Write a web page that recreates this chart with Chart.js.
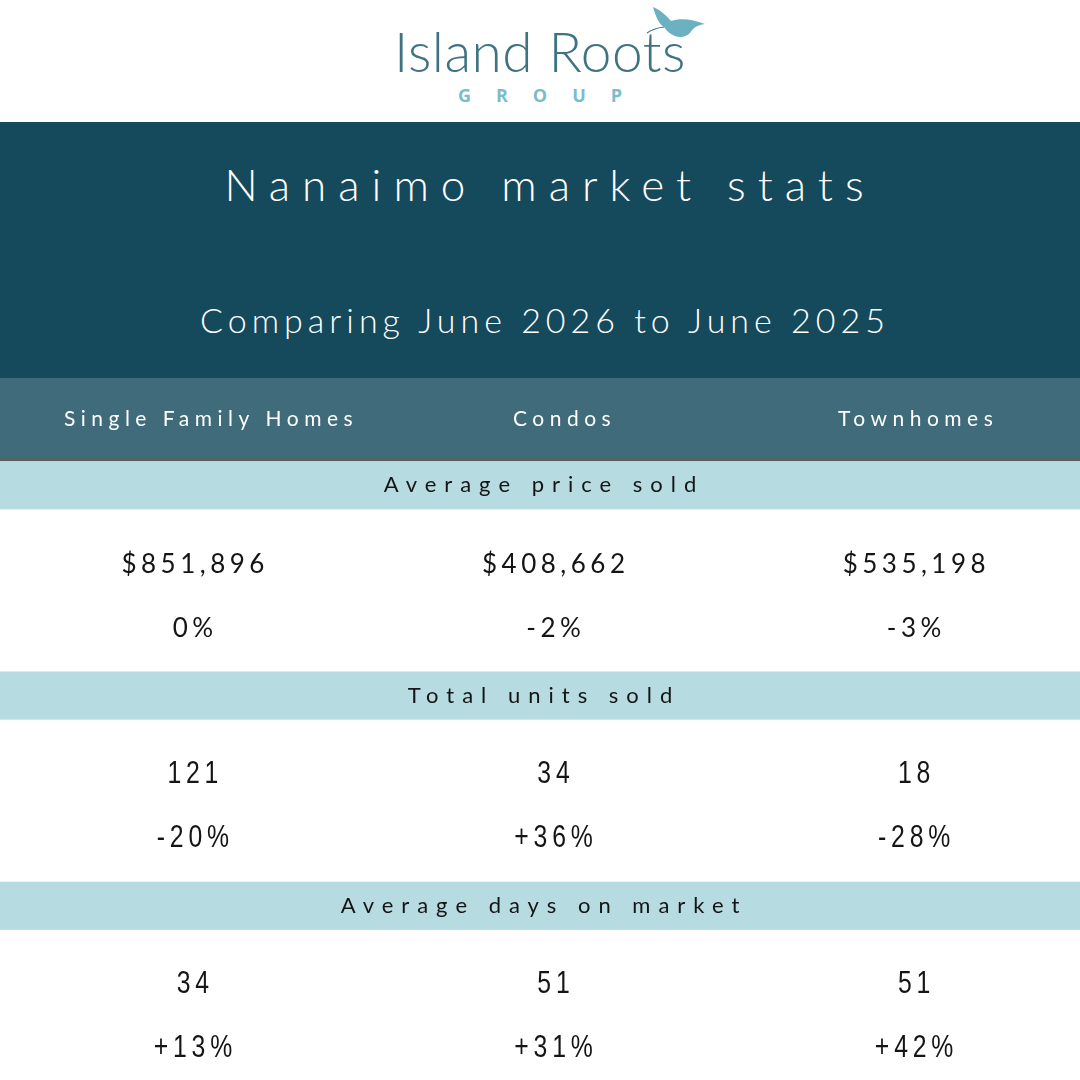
<!DOCTYPE html>
<html lang="en">
<head>
    <meta charset="UTF-8">
    <title>Nanaimo market stats</title>
    <script src="https://cdnjs.cloudflare.com/ajax/libs/Chart.js/4.4.1/chart.umd.min.js"></script>
    <style>
        html, body {
            margin: 0;
            padding: 0;
            width: 1080px;
            height: 1080px;
            overflow: hidden;
            background: #fff;
        }
        .logo {
            position: absolute;
            left: 0;
            top: 0;
            width: 1080px;
            height: 122px;
        }
        .logo .name {
            position: absolute;
            left: 0;
            width: 1080px;
            top: 16px;
            text-align: center;
            font-family: Lato, sans-serif;
            font-weight: 300;
            font-size: 55px;
            line-height: 70px;
            letter-spacing: 0.5px;
            color: #3f7383;
        }
        .logo .group {
            position: absolute;
            left: 0;
            width: 1080px;
            top: 83px;
            text-align: center;
            font-family: "Open Sans", sans-serif;
            font-weight: 700;
            font-size: 18px;
            line-height: 24px;
            letter-spacing: 25px;
            text-indent: 25px;
            color: #7bbccb;
        }
        .logo svg {
            position: absolute;
            left: 640px;
            top: 0;
        }
        .banner {
            position: absolute;
            left: 0;
            top: 122px;
            width: 1080px;
            height: 256px;
            background: #15495c;
            color: #fff;
        }
        .banner div {
            position: absolute;
            left: 0;
            width: 1080px;
            text-align: center;
            font-family: Lato, sans-serif;
        }
        .banner .title {
            top: 32px;
            font-size: 44px;
            font-weight: 300;
            line-height: 60px;
            letter-spacing: 12px;
            text-indent: 20px;
        }
        .banner .subtitle {
            top: 173px;
            font-size: 34px;
            font-weight: 300;
            line-height: 50px;
            letter-spacing: 5px;
            text-indent: 10px;
        }
        .table {
            position: absolute;
            left: 0;
            top: 378px;
            width: 1080px;
            height: 702px;
        }
    </style>
</head>
<body>
    <div class="logo">
        <div class="name">Island Roots</div>
        <div class="group">GROUP</div>
        <svg width="80" height="60" viewBox="0 0 80 60">
            <path d="M24,27 C20,25 16,18 13,7 C19,9 26,15 31,21 C40,18 52,19 65,24 C57,25 53,28 50,33 C45,38 37,38 31,34 C28,32 26,30 24,27 Z" fill="#6cb1c2"/>
            <path d="M7,33 C11,30 16,28 24,27" stroke="#3f7383" stroke-width="1.2" fill="none"/>
        </svg>
    </div>
    <div class="banner">
        <div class="title">Nanaimo market stats</div>
        <div class="subtitle">Comparing June 2026 to June 2025</div>
    </div>
    <div class="table">
        <canvas id="statsChart"></canvas>
    </div>

    <script>
        // Columns and sections of the table
        const categories = ['Single Family Homes', 'Condos', 'Townhomes'];
        const metrics = ['Average price sold', 'Total units sold', 'Average days on market'];

        // Values per column, June 2026, and change vs June 2025 (%)
        const avgPrice = [851896, 408662, 535198];
        const avgPriceChange = [0, -2, -3];
        const unitsSold = [121, 34, 18];
        const unitsSoldChange = [-20, 36, -28];
        const daysOnMarket = [34, 51, 51];
        const daysOnMarketChange = [13, 31, 42];

        const sectionValues = [avgPrice, unitsSold, daysOnMarket];
        const sectionChanges = [avgPriceChange, unitsSoldChange, daysOnMarketChange];

        // Layout of a section, in section units on the y scale
        const BAND_SPAN = 0.229;
        const LABEL_ROW = 0.114;
        const VALUE_ROW = 0.49;
        const CHANGE_ROW = 0.795;

        const HEADER_BG = '#3f6b7a';
        const RULE_COLOR = '#5c5f62';
        const BAND_BG = '#b6dbe1';
        const TEXT_COLOR = '#151515';

        // no narrow face installed, so squeeze Liberation Sans horizontally
        const NARROW = { font: '400 31px "Liberation Sans", Arimo, sans-serif', scaleX: 0.8, spacing: 6 };
        const SECTION_FONTS = [
            { font: '400 26px Lato, sans-serif', scaleX: 1, spacing: 4.5 },
            NARROW,
            NARROW
        ];

        function formatValue(section, v) {
            return section === 0 ? '$' + v.toLocaleString('en-US') : String(v);
        }

        function formatChange(v) {
            return (v > 0 ? '+' : '') + v + '%';
        }

        function spacedText(ctx, text, x, y, spacing, scaleX = 1) {
            ctx.save();
            ctx.letterSpacing = spacing + 'px';
            ctx.translate(x, y);
            ctx.scale(scaleX, 1);
            // letter spacing adds a trailing gap, shift to keep it centred
            ctx.fillText(text, spacing / 2, 0);
            ctx.restore();
        }

        const tablePlugin = {
            id: 'statsTable',
            beforeDraw(chart) {
                const { ctx, chartArea, scales: { y } } = chart;
                ctx.save();
                ctx.fillStyle = HEADER_BG;
                ctx.fillRect(0, 0, chart.width, chartArea.top);
                ctx.fillStyle = RULE_COLOR;
                ctx.fillRect(0, chartArea.top - 3, chart.width, 3);
                ctx.fillStyle = BAND_BG;
                metrics.forEach((m, s) => {
                    const top = y.getPixelForValue(s);
                    const bottom = y.getPixelForValue(s + BAND_SPAN);
                    ctx.fillRect(0, top, chart.width, bottom - top);
                });
                ctx.restore();
                // spacing for the column header tick labels
                ctx.letterSpacing = '5.5px';
            },
            afterDatasetsDraw(chart) {
                const { ctx, scales: { y } } = chart;
                ctx.save();
                ctx.fillStyle = TEXT_COLOR;
                ctx.textAlign = 'center';
                ctx.textBaseline = 'middle';

                ctx.font = '400 22px Lato, sans-serif';
                metrics.forEach((m, s) => {
                    spacedText(ctx, m, chart.width / 2, y.getPixelForValue(s + LABEL_ROW), 8);
                });

                chart.data.datasets.forEach((ds, i) => {
                    const meta = chart.getDatasetMeta(i);
                    const style = SECTION_FONTS[ds.section];
                    ctx.font = style.font;
                    meta.data.forEach((pt, j) => {
                        const v = ds.data[j].v;
                        const text = ds.kind === 'value' ? formatValue(ds.section, v) : formatChange(v);
                        spacedText(ctx, text, pt.x, pt.y, style.spacing, style.scaleX);
                    });
                });
                ctx.restore();
            }
        };

        const datasets = [];
        metrics.forEach((m, s) => {
            datasets.push({
                label: m,
                section: s,
                kind: 'value',
                data: sectionValues[s].map((v, i) => ({ x: i, y: s + VALUE_ROW, v: v }))
            });
            datasets.push({
                label: m + ' change',
                section: s,
                kind: 'change',
                data: sectionChanges[s].map((v, i) => ({ x: i, y: s + CHANGE_ROW, v: v }))
            });
        });

        new Chart(document.getElementById('statsChart'), {
            type: 'scatter',
            data: { datasets: datasets },
            options: {
                responsive: true,
                maintainAspectRatio: false,
                animation: false,
                events: [],
                layout: { padding: { top: 0, left: 0, right: 0, bottom: 0 } },
                elements: { point: { radius: 0, hoverRadius: 0 } },
                plugins: {
                    legend: { display: false },
                    tooltip: { enabled: false }
                },
                scales: {
                    x: {
                        type: 'linear',
                        display: false,
                        min: -0.535,
                        max: 2.46
                    },
                    x2: {
                        type: 'linear',
                        position: 'top',
                        min: -0.597,
                        max: 2.458,
                        grid: { display: false, drawTicks: false },
                        border: { display: false },
                        afterBuildTicks: (scale) => {
                            scale.ticks = categories.map((c, i) => ({ value: i }));
                        },
                        ticks: {
                            color: '#ffffff',
                            font: { family: 'Lato', size: 21 },
                            padding: 29,
                            autoSkip: false,
                            maxRotation: 0,
                            callback: (value) => categories[value]
                        }
                    },
                    y: {
                        type: 'linear',
                        display: false,
                        reverse: true,
                        min: 0,
                        max: 2.943
                    }
                }
            },
            plugins: [tablePlugin]
        });
    </script>
</body>
</html>
